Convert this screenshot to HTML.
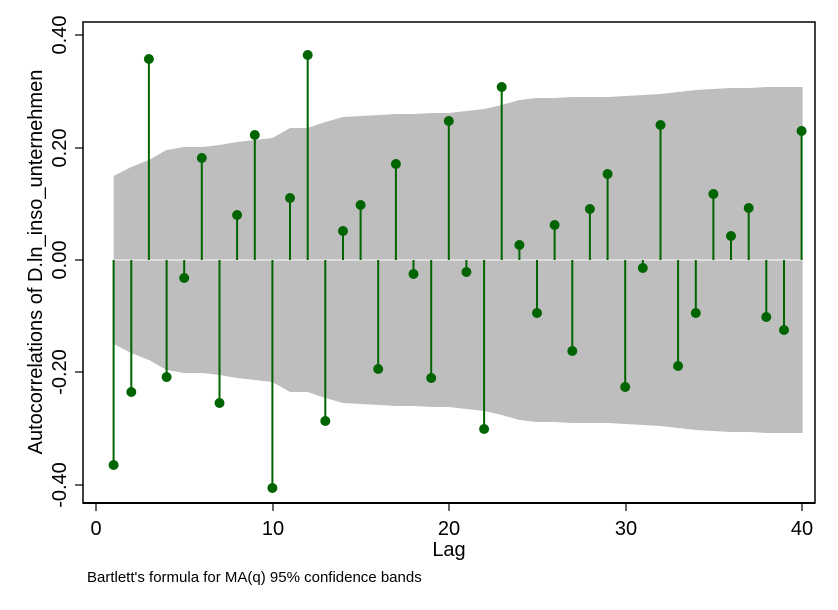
<!DOCTYPE html>
<html><head><meta charset="utf-8"><style>body{margin:0;background:#fff}svg{display:block}</style></head>
<body>
<svg id="s" width="838" height="610" xmlns="http://www.w3.org/2000/svg" font-family="Liberation Sans, Arial, sans-serif">
<rect width="838" height="610" fill="#fff"/>
<polygon id="band" fill="#bebebe"/>
<line x1="83" y1="260" x2="815" y2="260" stroke="#fff" stroke-width="1"/>
<path fill="none" stroke="#006400" stroke-width="2" d="M113.6 260V465M131.3 260V392M148.9 260V59M166.6 260V377M184.2 260V278M201.8 260V158M219.5 260V403M237.1 260V215M254.8 260V135M272.4 260V488M290 260V198M307.7 260V55M325.3 260V421M343 260V231M360.6 260V205M378.2 260V369M395.9 260V164M413.5 260V274M431.2 260V378M448.8 260V121M466.4 260V272M484.1 260V429M501.7 260V87M519.4 260V245M537 260V313M554.6 260V225M572.3 260V351M589.9 260V209M607.6 260V174M625.2 260V387M642.8 260V268M660.5 260V125M678.1 260V366M695.8 260V313M713.4 260V194M731 260V236M748.7 260V208M766.3 260V317M784 260V330M801.6 260V131"/>
<g fill="#006400">
<circle cx="113.6" cy="465" r="5"/><circle cx="131.3" cy="392" r="5"/><circle cx="148.9" cy="59" r="5"/><circle cx="166.6" cy="377" r="5"/><circle cx="184.2" cy="278" r="5"/><circle cx="201.8" cy="158" r="5"/><circle cx="219.5" cy="403" r="5"/><circle cx="237.1" cy="215" r="5"/><circle cx="254.8" cy="135" r="5"/><circle cx="272.4" cy="488" r="5"/><circle cx="290" cy="198" r="5"/><circle cx="307.7" cy="55" r="5"/><circle cx="325.3" cy="421" r="5"/><circle cx="343" cy="231" r="5"/><circle cx="360.6" cy="205" r="5"/><circle cx="378.2" cy="369" r="5"/><circle cx="395.9" cy="164" r="5"/><circle cx="413.5" cy="274" r="5"/><circle cx="431.2" cy="378" r="5"/><circle cx="448.8" cy="121" r="5"/><circle cx="466.4" cy="272" r="5"/><circle cx="484.1" cy="429" r="5"/><circle cx="501.7" cy="87" r="5"/><circle cx="519.4" cy="245" r="5"/><circle cx="537" cy="313" r="5"/><circle cx="554.6" cy="225" r="5"/><circle cx="572.3" cy="351" r="5"/><circle cx="589.9" cy="209" r="5"/><circle cx="607.6" cy="174" r="5"/><circle cx="625.2" cy="387" r="5"/><circle cx="642.8" cy="268" r="5"/><circle cx="660.5" cy="125" r="5"/><circle cx="678.1" cy="366" r="5"/><circle cx="695.8" cy="313" r="5"/><circle cx="713.4" cy="194" r="5"/><circle cx="731" cy="236" r="5"/><circle cx="748.7" cy="208" r="5"/><circle cx="766.3" cy="317" r="5"/><circle cx="784" cy="330" r="5"/><circle cx="801.6" cy="131" r="5"/>
</g>
<rect x="83" y="22" width="732" height="481" fill="none" stroke="#000" stroke-width="1.5"/>
<line x1="83" y1="503" x2="815" y2="503" stroke="#000" stroke-width="2"/>
<g stroke="#000" stroke-width="1.2">
<line x1="75" y1="35" x2="83" y2="35"/><line x1="75" y1="148" x2="83" y2="148"/><line x1="75" y1="260" x2="83" y2="260"/><line x1="75" y1="372" x2="83" y2="372"/><line x1="75" y1="485" x2="83" y2="485"/>
<line x1="96" y1="503" x2="96" y2="511"/><line x1="273" y1="503" x2="273" y2="511"/><line x1="449" y1="503" x2="449" y2="511"/><line x1="626" y1="503" x2="626" y2="511"/><line x1="802" y1="503" x2="802" y2="511"/>
</g>
<g font-size="20" text-anchor="middle">
<text transform="translate(66,35) rotate(-90)">0.40</text>
<text transform="translate(66,148) rotate(-90)">0.20</text>
<text transform="translate(66,260) rotate(-90)">0.00</text>
<text transform="translate(66,372) rotate(-90)">-0.20</text>
<text transform="translate(66,485) rotate(-90)">-0.40</text>
<text x="96" y="535">0</text><text x="273" y="535">10</text><text x="449" y="535">20</text><text x="626" y="535">30</text><text x="802" y="535">40</text>
<text x="449" y="556">Lag</text>
<text transform="translate(42,262) rotate(-90)">Autocorrelations of D.ln_inso_unternehmen</text>
</g>
<text x="87" y="582" font-size="15">Bartlett's formula for MA(q) 95% confidence bands</text>
<script>
var up=[176,167,160,150,147,147,145,142,140,138,128,128,122,117,116,115,114,114,113,113,111,109,105,100,98,98,97,97,97,96,95,94,92,90,89,88,88,87,87,87];
function X(k){return 96+k*17.64;}
var pts=[];
for(var i=0;i<40;i++){pts.push([X(i+1),up[i]]);}
pts.push([X(40)+1,87]);
var all=pts.map(function(p){return p[0]+","+p[1];});
var rev=pts.slice().reverse().map(function(p){return p[0]+","+(520-p[1]);});
document.getElementById("band").setAttribute("points",all.concat(rev).join(" "));
</script>
</svg>
</body></html>
